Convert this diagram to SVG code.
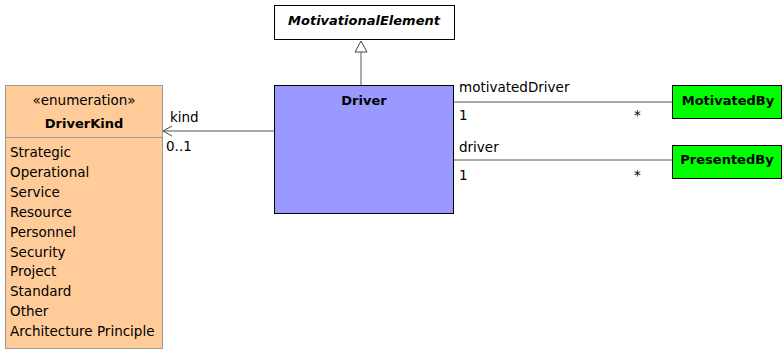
<svg xmlns="http://www.w3.org/2000/svg" width="782" height="350" viewBox="0 0 782 350">
<defs>
<style>
text{font-family:"DejaVu Sans","Liberation Sans",Arial,sans-serif;font-size:13.5px;fill:#000}
.b{font-weight:bold;font-size:13px}
.c{text-anchor:middle}
.box{stroke:#000;stroke-width:1}
.ln{stroke:#555;stroke-width:1;fill:none}
</style>
<marker id="open" markerWidth="12" markerHeight="12" refX="10" refY="6" orient="auto" markerUnits="userSpaceOnUse">
<path d="M1,1 L10,6 L1,11" fill="none" stroke="#444" stroke-width="1"/>
</marker>
</defs>
<rect width="782" height="350" fill="#fff"/>
<g id="MotivationalElement">
<rect class="box" x="274.5" y="5.5" width="180" height="34" fill="#fff"/>
<text class="c b" x="364" y="25" font-style="italic">MotivationalElement</text>
</g>
<g id="Driver">
<rect class="box" x="274.5" y="85.5" width="179" height="128" fill="#9999ff"/>
<text class="c b" x="364" y="105">Driver</text>
</g>
<g id="MotivatedBy">
<rect class="box" x="672.5" y="85.5" width="109" height="33" fill="#00ff00"/>
<text class="c b" x="728" y="105">MotivatedBy</text>
</g>
<g id="PresentedBy">
<rect class="box" x="672.5" y="145.5" width="109" height="33" fill="#00ff00"/>
<text class="c b" x="727" y="164">PresentedBy</text>
</g>
<g id="DriverKind">
<rect x="5.5" y="85.5" width="157" height="263" fill="#ffcc99" stroke="#999"/>
<line x1="5.5" y1="137.5" x2="162.5" y2="137.5" stroke="#999"/>
<text class="c" x="84" y="105">«enumeration»</text>
<text class="c b" x="84" y="128">DriverKind</text>
<text x="10" y="157">Strategic</text>
<text x="10" y="177">Operational</text>
<text x="10" y="197">Service</text>
<text x="10" y="217">Resource</text>
<text x="10" y="237">Personnel</text>
<text x="10" y="257">Security</text>
<text x="10" y="276">Project</text>
<text x="10" y="296">Standard</text>
<text x="10" y="316">Other</text>
<text x="10" y="336">Architecture Principle</text>
</g>
<g id="connectors">
<line class="ln" x1="274" y1="131" x2="163" y2="131" marker-end="url(#open)"/>
<line class="ln" x1="361" y1="85" x2="361" y2="52"/>
<path d="M361,41 L355,52 L367,52 Z" fill="#fff" stroke="#444"/>
<line class="ln" x1="454" y1="102" x2="672" y2="102"/>
<line class="ln" x1="454" y1="160" x2="672" y2="160"/>
<text x="170" y="122">kind</text>
<text x="166" y="151">0..1</text>
<text x="459" y="92">motivatedDriver</text>
<text x="459" y="120">1</text>
<text x="634" y="120">*</text>
<text x="459" y="152">driver</text>
<text x="459" y="180">1</text>
<text x="634" y="180">*</text>
</g>
</svg>
